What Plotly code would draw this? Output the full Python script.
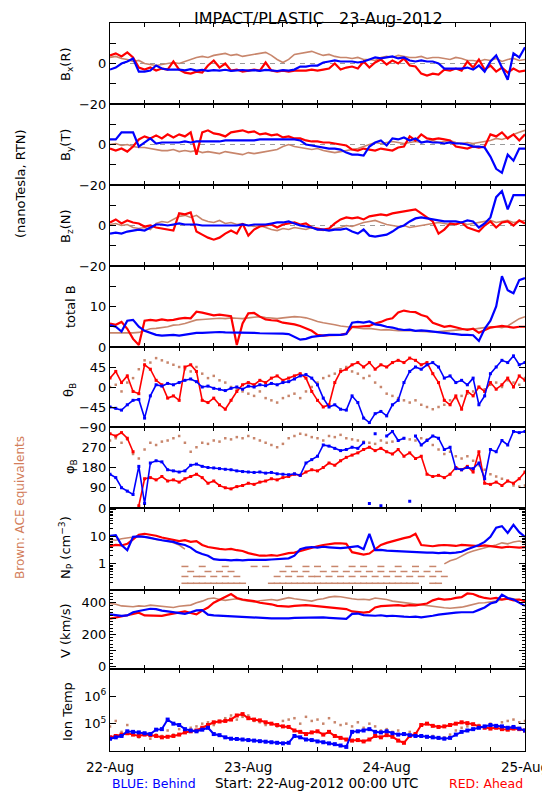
import plotly.graph_objects as go

# The page body has an 8 px margin, so the figure is sized/placed to land on the 550x800 frame.
OFF = 8
W, H = 550 - OFF, 800 - OFF
LEFT, RIGHT = 110, 525      # plot edges in frame pixels


def px(x):
    return (x - OFF) / W


def py(y):
    return 1 - (y - OFF) / H


# ---------------- data (hour since 22-Aug-2012 00:00 UTC) ----------------
hours = list(range(73))

bx_blue = [-3, -2, 0, 1, 2.5, -4, -4, -3.5, -1, -2.5, -3, -3,
           -3, -3.4, -2.8, -3.5, -3.2, -3.6, -3.3, -3.5, -3.1, -3.6, -3.4, -3.2,
           -3.5, -3.3, -3.6, -3.2, -3.4, -3.7, -3.3, -3.5, -3, -1.5, -1.5, -1,
           -1, 0.5, 1, 1.5, 1, 1, 1, 0.5, 1, 2, 3, 2.5,
           3, 3.5, 2.5, 3, 1.5, 1, 1.5, 1, 1, 0, -2.5, -2.5,
           -2.5, -2.5, -2, -3, -1, -4, 1, 4, -2, -8, 5, 3,
           8]
bx_red = [4, 5, 3.5, 5.5, 3, -2, -3, -2, -3.5, -2.5, -3, 1,
          -3, -4.5, -5, -4, -4.5, -1, 1.5, -2, 0, -3.5, -3, -4,
          -3.5, -3, -3.5, 0.5, -3.5, -4, -3.5, -4, -3.5, -3.5, -3.5, -3,
          -3.5, -3, -2.5, 0, -3, -2, -1.5, -2.5, 1, -2, 0.5, 2,
          -0.5, 1.5, 0, 2.5, -1, -1.5, -5, -6, -5, -5.5, -3, -3.5,
          -2.5, -3.5, 1, -2, 2, -3, -1, -4, -2, -4.5, -2.5, -4,
          -3.5]
bx_brown = [3, 3.5, 2.5, 2, 1, 1.5, 0, -0.5, -1, -0.5, 0, 0.5,
            0, 1, 2, 3, 3.5, 3, 4, 4.5, 5, 4, 4.5, 3.5,
            4, 4.5, 5, 5.5, 4, 2, 0.5, 2, 4.5, 5, 5.5, 6,
            5, 4, 4.5, 3.5, 3, 3, 2.5, 3, 2, 2, 1.5, 3,
            3.5, 3, 4, 3.5, 3, 3, 3.5, 2.5, 3, 3, 2.5, 2,
            3, 2.5, 1.5, 1.5, 1, 2, 1.5, 2.5, 1, 2, 2.5, 1.5,
            2]

by_blue = [2.5, 2.5, 6, 6, 6, -1, 1, 3, 0.5, 1, 1, 1,
           1, 1.5, 1, 1.5, 1.5, 1.5, 1.5, 1.5, 2, 2, 2, 2,
           2, 2, 2.5, 2.5, 2.5, 2.5, 2.5, 2.5, 2.5, 2, 0, -0.5,
           -1, -1.5, -2, -2, -2.5, -4, -5, -5, -5.5, -1, 1, 2,
           -0.5, 3, 2.5, 3.5, 2, 3, 1, 1.5, 1, 1, 0.5, 1,
           0.5, 0.5, 0, -1, -1, -1.5, -6, -12, -14, -5, -8, -2,
           -2]
by_red = [-2, -3, -2, -3.5, -1, 2.5, 4, 3, 4.5, 3, 5, 3.5,
          5, 4, 6, -5, 6, 7, 5.5, 5, 4, 6, 6.5, 7,
          6, 6.5, 5, 5.5, 4.5, 5, 3.5, 4, 3, 3, 2, 1.5,
          1.5, 1, 1, 0.5, 0, -0.5, -2.5, -3, -2, -2.5, -3, -2,
          -2.5, -3, -1.5, -1, 4, 2, 5, 3, 2.5, 3, 2.5, 2,
          -1, -1.5, -2, -1, -1.5, -1, 5, 4, 6, 3, 5, 2,
          5]
by_brown = [0, 0.5, -0.5, 0, -1, -1.5, -1.5, -2, -2.5, -3, -3, -2.5,
            -3.5, -3, -3.5, -3, -4, -3.5, -4, -4.5, -3.5, -4, -4.5, -5,
            -4, -4.5, -4, -3.5, -3, -2.5, -1, 0, -1, -1.5, -2, -2.5,
            -2, -3, -3.5, -4, -3.5, -3, -2.5, -2, -1, 0, 1, 0.5,
            1, 1.5, 1, 0.5, 1, 1.5, 1, 1.5, 2, 1, 1.5, 2,
            1, 0.5, 1, 0.5, 1, 1.5, 2, 3, 2.5, 3.5, 5, 6,
            7]

bz_blue = [-4, -3.5, -4, -3, -2.5, -2, -2.5, -1, 0.5, 0.5, 0, 0.5,
           1, 0.5, 0.5, 0.5, 0, 0, 0, 0, 0, 0, 0, 0.5,
           0, 0.5, 0.5, 0.5, 1, 1.5, 1.5, 2, 1, 0, -0.5, -1,
           -2, -2, -2.5, -2, -2, -1.5, -3, -4, -2, -5, -5.5, -5,
           -4.5, -3, -1, 0, 2, 3.5, 4, 3.5, 3, 2.5, 2, 2,
           2, 1.5, 2.5, 2, -1, 1, 4, 14, 17, 8, 15, 15,
           15]
bz_red = [1.5, 3, 1, 2.5, 1.5, 1, -0.5, 0, -1, -1.5, -2, -2.5,
          6, 5.5, 6.5, -3, -4.5, -6, -7, -6, -4, -2.5, -4, 1,
          -5, -2, -0.5, 0, 0.5, -1, 0.5, 1, 1.5, 0.5, 1, -1,
          -1.5, -2, -1.5, 1, 3, 4, 3.5, 4, 3, 4.5, 5, 5.5,
          5, 6, 6.5, 7, 7.5, 8, 6, 4, 2, -4, -2, 1,
          0.5, 1.5, -1, -2, -3, 0, 2, -1, 1.5, 2, 0, 2.5,
          1]
bz_brown = [0.5, 1, 0, 0.5, -1, -1.5, -1, -2, 1, 2, 1.5, 3,
            4.5, 5, 4, 5, 3, 2, 1.5, 2.5, 1, 1.5, 0.5, 1,
            0, -0.5, 0, -1, -2, -2.5, -1.5, -2, -1, -1.5, -2, -1,
            -2, -2.5, -2, -1.5, -1, 0, -0.5, 0.5, 1.5, 2, 2.5, 1.5,
            0.5, 0, -0.5, 0, -1, -0.5, 0, 0.5, 1, 1.5, 1, 0.5,
            1, 1.5, 0.5, 1, 1.5, 2, 2.5, 1.5, 2, 2.5, 1.5, 2,
            2.5]

btot_blue = [5.4, 5, 3.8, 6.5, 6.7, 5, 4, 3.5, 3, 2.8, 2.9, 3,
             2.8, 3, 3.2, 3.5, 3.5, 3.6, 3.6, 3.7, 3.6, 3.6, 3.5, 3.5,
             3.5, 3.5, 3.4, 3.4, 3.4, 3.3, 3.3, 3.2, 2.5, 1.8, 2, 2.5,
             2.7, 2.9, 3, 3, 3, 3.2, 6, 6.2, 6, 6.3, 5.6, 5.4,
             5, 4.8, 4.4, 4.2, 4.3, 4, 4.1, 4, 3.8, 3.6, 3.4, 3.3,
             3.2, 3, 3, 2.9, 1.5, 4.5, 6.5, 10, 17.5, 14, 13.3, 16.5,
             17]
btot_red = [5.8, 5.5, 6.2, 4.5, 2, 0.5, 6.5, 6.7, 6.5, 6.8, 6.6, 6.7,
            7, 7.2, 7.1, 8.7, 8.5, 8.2, 7.8, 8, 7.8, 7.6, 0.5, 5.8,
            8.3, 8.4, 7.5, 6.8, 6.6, 6.5, 6, 5.8, 5.6, 5.2, 4.6, 4,
            3, 2.8, 2.9, 2.9, 3, 3.3, 5, 5, 5.1, 5.2, 5.8, 6.2,
            6.8, 7.1, 8.5, 9, 8.7, 8.6, 7.9, 7.5, 6, 5.5, 5, 5.2,
            4.8, 4.5, 4.2, 4.5, 3.5, 4.2, 4.8, 5, 5.2, 5, 4.8, 5,
            5]
btot_brown = [3.5, 3.5, 3.5, 3.4, 3.5, 3.6, 4, 4.5, 4.6, 4.8, 5, 5.4,
              5.5, 5.8, 6.2, 6.7, 6.8, 6.9, 7, 7.1, 7, 7.2, 7.1, 7,
              7.2, 7.4, 7.5, 7.3, 7.1, 7, 7.2, 7.4, 7.5, 7.4, 7.2, 6.8,
              6.3, 6, 5.8, 5.5, 5.2, 5, 4.8, 4.6, 4.5, 4.6, 4.4, 4.2,
              4.3, 4.1, 4, 4, 4.1, 3.9, 3.8, 3.8, 3.7, 3.8, 3.9, 4,
              4.2, 4.3, 4.5, 4.4, 4.6, 4.8, 5, 5, 4.8, 5.2, 6, 7,
              7.5]

theta_blue = [-45, -48, -52, -40, -30, -28, -70, -20, 5, 2, 8, 5,
              10, 15, 18, 12, 0, 2, -3, -5, -8, -3, 0, -5,
              2, 0, 5, 3, 8, 5, 10, 12, 18, 25, 28, 20,
              5, -25, -45, -40, -50, -52, -20, -35, -70, -80, -60, -55,
              -65, -40, -30, 10, 35, 45, 40, 50, 55, 45, 20, 25,
              10, 15, 5, 20, -40, -20, 30, 45, 60, 55, 70, 50,
              55]
theta_red = [20, 35, 10, 25, -10, -15, 50, 40, 15, 5, -25, -20,
             -30, 45, 50, 35, -30, -35, -25, -40, -50, -30, -10, 5,
             10, 5, 15, 10, 20, 25, 15, 20, 25, 30, 20, -10,
             -30, -45, -40, 10, 35, 40, 50, 55, 45, 55, 40, 50,
             45, 55, 60, 55, 65, 60, 50, 55, 30, 10, -30, -40,
             -20, -50, -10, -20, 0, -10, 10, -5, 5, 20, 0, 25,
             15]
theta_brown = [0, 5, -10, 10, 20, 40, 60, 55, 65, 60, 55, 50,
               45, 40, 35, 45, 30, 20, 25, 15, 10, 0, -5, -10,
               -15, -20, -10, -25, -30, -35, -25, -20, -15, -25, -10, 0,
               10, 20, 25, 30, 40, 45, 35, 30, 20, 25, 10, 0,
               -15, -20, -25, -30, -35, -30, -40, -45, -50, -45, -40, -30,
               -25, -20, -15, -10, 0, -5, 5, 10, 0, 15, 10, 5,
               20]

phi_blue = [150, 135, 90, 75, 60, 185, 20, 200, 210, 205, 170, 165,
            160, 165, 190, 195, 185, 180, 178, 175, 172, 170, 165, 162,
            160, 158, 160, 155, 158, 152, 150, 148, 152, 145, 200, 215,
            230, 280, 275, 265, 255, 260, 270, 265, 290, 20, 330, 10,
            320, 340, 300, 310, 30, 320, 280, 300, 320, 310, 260, 270,
            175, 170, 180, 175, 200, 130, 260, 250, 300, 280, 340, 335,
            340]
phi_red = [330, 320, 335, 310, 250, 10, 130, 135, 125, 140, 120, 125,
           115, 130, 140, 150, 135, 110, 120, 100, 90, 85, 95, 100,
           110, 105, 115, 120, 130, 125, 135, 140, 150, 145, 160, 170,
           165, 180, 200, 190, 210, 225, 235, 245, 260, 270, 255, 265,
           250, 240, 260, 230, 245, 220, 230, 150, 140, 145, 135, 150,
           180, 170, 185, 160, 250, 110, 105, 115, 100, 120, 110, 130,
           160]
phi_brown = [300, 310, 290, 305, 240, 220, 260, 290, 280, 295, 300, 310,
             320, 290, 250, 270, 290, 285, 300, 295, 310, 305, 315, 310,
             320, 310, 300, 290, 280, 270, 285, 310, 320, 330, 325, 315,
             310, 300, 320, 315, 325, 310, 305, 300, 295, 290, 285, 300,
             290, 295, 300, 310, 305, 300, 310, 305, 280, 260, 240, 250,
             230, 220, 230, 210, 190, 170, 150, 140, 130, 120, 100, 95,
             100]

np_blue = [11, 11.5, 5, 3.2, 10, 10.5, 10, 9, 8, 7.5, 7, 6.5,
           5.5, 5, 4, 2.8, 2.3, 2, 1.5, 1.4, 1.4, 1.35, 1.4, 1.35,
           1.4, 1.4, 1.35, 1.4, 1.45, 1.5, 1.5, 1.6, 2, 3.5, 4, 4.2,
           4, 4.3, 4.1, 4, 3.8, 4, 4.2, 4.5, 3.5, 13, 3.2, 3.3,
           3.1, 3, 2.9, 2.9, 2.8, 2.7, 2.7, 2.6, 2.6, 2.5, 2.6, 2.5,
           2.6, 2.8, 3.5, 4.2, 5, 6.5, 10, 22, 25, 14, 28, 15,
           10]
np_red = [4.5, 5, 4.8, 5.5, 8, 12, 13, 12, 11, 9.5, 8.5, 8,
          7, 7.5, 6.5, 7, 5, 4.2, 3.8, 3.6, 3.4, 3.6, 3.2, 3,
          2.5, 2.2, 2, 2, 2.1, 2, 2.3, 2.5, 2.6, 3, 3.5, 4,
          4.5, 5, 5.5, 5.7, 5.8, 5.5, 2.7, 2.5, 2.2, 2.4, 3.5, 5,
          6, 7, 8, 9, 10, 13, 5, 4.8, 4.5, 4.8, 5, 4.8,
          4.6, 5, 4.8, 4.7, 4.5, 4.8, 4.5, 4.2, 4, 4.3, 4.2, 4,
          4.2]
np_brown = ([8, 7.5, 8.5, 9, 10, 10.5, 10, 9.5, 8, 7.5, 7, 6, 5, 3.5]
            + [None] * 44
            + [1, 1.3, 1.5, 2, 2.5, 3, 3.5, 4, 4.5, 5, 6, 5.5, 6.5, 7, 6])
# sparse, quantised ACE density readings (hours at each level)
np_brown_low_levels = [0.19, 0.34, 0.52, 0.8]
np_brown_low_hours = [
    [13, 14, 15, 16, 17, 18, 19, 20, 21, 22, 23, 28, 29, 30, 31, 32, 33, 34, 35,
     36, 37, 38, 39, 40, 41, 42, 43, 44, 45, 46, 47, 48, 49, 50, 51, 52, 53, 56, 57],
    [13, 15, 16, 18, 20, 22, 29, 31, 33, 35, 36, 38, 40, 42, 44, 46, 48, 50, 52, 54, 56, 58],
    [14, 17, 19, 21, 30, 32, 34, 37, 39, 41, 43, 45, 47, 49, 51, 53, 55, 57],
    [13, 16, 20, 25, 27, 31, 34, 36, 39, 42, 44, 47, 50, 53, 56],
]

v_blue = [327, 322, 317, 320, 340, 348, 355, 362, 360, 350, 345, 340,
          335, 330, 340, 352, 354, 325, 320, 318, 315, 312, 312, 310,
          308, 306, 305, 303, 302, 302, 301, 302, 305, 306, 308, 309,
          310, 308, 305, 302, 300, 298, 330, 332, 322, 320, 318, 321,
          316, 318, 313, 312, 310, 313, 308, 312, 318, 325, 330, 332,
          338, 340, 342, 340, 355, 370, 395, 405, 450, 430, 420, 400,
          380]
v_red = [300, 306, 312, 321, 330, 337, 320, 318, 315, 317, 325, 333,
         340, 345, 335, 327, 350, 370, 400, 420, 440, 455, 430, 420,
         415, 410, 400, 395, 390, 380, 378, 375, 380, 383, 385, 382,
         378, 375, 370, 368, 365, 360, 345, 340, 338, 342, 370, 378,
         380, 382, 385, 380, 385, 383, 388, 395, 415, 425, 420, 422,
         430, 435, 458, 455, 440, 430, 425, 430, 420, 425, 415, 420,
         410]
v_brown = [395, 390, 380, 378, 375, 380, 378, 385, 382, 380, 375, 370,
           378, 380, 385, 400, 410, 425, 430, 420, 415, 420, 425, 415,
           410, 405, 412, 418, 420, 415, 425, 432, 425, 420, 415, 410,
           420, 425, 435, 440, 438, 430, 425, 420, 422, 418, 430, 425,
           420, 410, 405, 400, 398, 392, 385, 380, 375, 372, 368, 365,
           368, 372, 380, 390, 398, 400, 405, 410, 420, 430, 425, 420,
           410]

# ion temperature, log10(K)
temp_blue_log10 = [4.45, 4.5, 4.55, 4.72, 4.7, 4.68, 4.65, 4.62, 4.78, 4.8, 5.15, 5.0,
                   4.95, 4.8, 4.75, 4.72, 4.78, 4.85, 4.62, 4.58, 4.5, 4.45, 4.44, 4.42,
                   4.4, 4.38, 4.36, 4.34, 4.32, 4.3, 4.28, 4.3, 4.55, 4.5, 4.42, 4.4,
                   4.35, 4.32, 4.28, 4.25, 4.2, 4.15, 4.7, 4.72, 4.75, 4.8, 4.7, 4.68,
                   4.72, 4.65, 4.6, 4.62, 4.58, 4.55, 4.55, 4.52, 4.5, 4.48, 4.45, 4.48,
                   4.6, 4.7, 4.75, 4.8, 4.85, 4.9, 4.95, 4.92, 4.9, 4.85, 4.88, 4.82,
                   4.75]
temp_red_log10 = [4.5, 4.55, 4.6, 4.65, 4.6, 4.55, 4.6, 4.58, 4.55, 4.5, 4.52, 4.55,
                  4.6, 4.68, 4.72, 4.75, 4.85, 4.95, 5.05, 5.08, 5.1, 5.15, 5.3, 5.35,
                  5.2, 5.15, 5.12, 5.05, 5.0, 4.95, 4.9, 4.88, 4.75, 4.7, 4.62, 4.68,
                  4.72, 4.6, 4.7, 4.55, 4.48, 4.42, 4.38, 4.4, 4.35, 4.42, 4.55, 4.5,
                  4.58, 4.52, 4.38, 4.3, 4.55, 4.62, 4.95, 5.0, 4.92, 4.88, 4.9, 4.95,
                  5.0, 5.05, 5.02, 4.98, 4.9, 4.85, 4.82, 4.85, 4.8, 4.78, 4.82, 4.8,
                  4.75]
temp_brown_log10 = [4.9, 5.1, 4.7, 4.95, 4.6, 4.5, 4.65, 4.45, 4.6, 4.55, 4.75, 4.6,
                    4.8, 4.7, 4.85, 4.9, 5.0, 5.05, 4.95, 5.1, 5.2, 5.3, 5.15, 5.25,
                    5.3, 5.1, 5.05, 4.95, 5.0, 4.9, 5.1, 5.15, 5.2, 5.0, 5.25, 5.1,
                    5.15, 5.0, 5.2, 5.05, 4.95, 5.0, 4.9, 5.05, 4.85, 5.0, 4.9, 4.75,
                    4.8, 4.7, 4.75, 4.65, 4.7, 4.6, 4.55, 4.5, 4.55, 4.45, 4.5, 4.6,
                    4.75, 4.85, 4.9, 4.8, 4.95, 4.85, 5.0, 4.9, 5.05, 5.1, 5.15, 5.05,
                    5.1]

day_labels = ["22-Aug", "23-Aug", "24-Aug", "25-Aug"]

# ---------------- styling ----------------
BLUE = "#0000ff"
RED = "#ff0000"
BROWN = "#c8866c"
BROWN_TXT = "#d27d5a"
FONT = "DejaVu Sans"

temp_blue = [10 ** v for v in temp_blue_log10]
temp_red = [10 ** v for v in temp_red_log10]
temp_brown = [10 ** v for v in temp_brown_log10]


def break_wraps(y):
    """Insert gaps where an angle wraps round (jump > 180 deg) so no line crosses the panel."""
    xs, ys = [], []
    for k, (h, v) in enumerate(zip(hours, y)):
        if k > 0 and abs(v - y[k - 1]) > 180:
            xs.append(h - 0.5)
            ys.append(None)
        xs.append(h)
        ys.append(v)
    return xs, ys


panels = [
    dict(top=23, bot=104, rng=[-20, 20], tv=[-20, -10, 0, 10, 20], tt=["−20", "", "0", "", ""],
         title="B<sub>x</sub>(R)", tx=66, ty=64, data=(bx_brown, bx_red, bx_blue), kind="line", zero=True),
    dict(top=104, bot=185, rng=[-20, 20], tv=[-20, -10, 0, 10, 20], tt=["−20", "", "0", "", ""],
         title="B<sub>y</sub>(T)", tx=66, ty=145, data=(by_brown, by_red, by_blue), kind="line", zero=True),
    dict(top=185, bot=266, rng=[-20, 20], tv=[-20, -10, 0, 10, 20], tt=["−20", "", "0", "", ""],
         title="B<sub>z</sub>(N)", tx=66, ty=226, data=(bz_brown, bz_red, bz_blue), kind="line", zero=True),
    dict(top=266, bot=347, rng=[0, 20], tv=[0, 5, 10, 15, 20], tt=["0", "", "10", "", ""],
         title="total B", tx=70, ty=307, data=(btot_brown, btot_red, btot_blue), kind="line"),
    dict(top=347, bot=427, rng=[-90, 90], tv=[-90, -45, 0, 45, 90], tt=["−90", "−45", "0", "45", ""],
         title="θ<sub>B</sub>", tx=70, ty=390, data=(theta_brown, theta_red, theta_blue), kind="angle"),
    dict(top=427, bot=508, rng=[0, 360], tv=[0, 90, 180, 270, 360], tt=["0", "90", "180", "270", ""],
         title="φ<sub>B</sub>", tx=70, ty=467, data=(phi_brown, phi_red, phi_blue), kind="phi"),
    dict(top=508, bot=590, rng=[-0.97, 2.07], log=True, tv=[1, 10, 100], tt=["1", "10", ""],
         minor=[0.2, 0.3, 0.4, 0.5, 0.6, 0.7, 0.8, 0.9, 2, 3, 4, 5, 6, 7, 8, 9,
                20, 30, 40, 50, 60, 70, 80, 90],
         title="N<sub>P</sub> (cm<sup>−3</sup>)", tx=66, ty=548, data=(np_brown, np_red, np_blue), kind="line"),
    dict(top=590, bot=669, rng=[-17, 480], tv=[0, 100, 200, 300, 400], tt=["0", "", "200", "", "400"],
         minor_dtick=20, title="V (km/s)", tx=65, ty=631, data=(v_brown, v_red, v_blue), kind="line"),
    dict(top=669, bot=751, rng=[4, 7], log=True, tv=[1e4, 1e5, 1e6, 1e7],
         tt=["", "10<sup>5</sup>", "10<sup>6</sup>", ""],
         title="Ion Temp", tx=67, ty=712, data=(temp_brown, temp_red, temp_blue), kind="temp"),
]

fig = go.Figure()
layout = dict(width=W, height=H, margin=dict(l=0, r=0, t=0, b=0, pad=0, autoexpand=False),
              paper_bgcolor="white", plot_bgcolor="white", showlegend=False,
              font=dict(family=FONT, size=13, color="black"))
annotations = []
shapes = []

xdom = [px(LEFT), px(RIGHT)]
xtickvals = list(range(0, 73, 6))
xticktext = [day_labels[h // 24] if h % 24 == 0 else "" for h in xtickvals]

for i, p in enumerate(panels, start=1):
    xa = "x" if i == 1 else f"x{i}"
    ya = "y" if i == 1 else f"y{i}"
    xk = "xaxis" if i == 1 else f"xaxis{i}"
    yk = "yaxis" if i == 1 else f"yaxis{i}"
    ydom = [py(p["bot"]), py(p["top"])]
    layout[xk] = dict(domain=xdom, anchor=ya, range=[0, 72], showgrid=False, zeroline=False,
                      showline=True, linecolor="black", linewidth=1, mirror="ticks",
                      ticks="inside", ticklen=4, tickcolor="black",
                      tickmode="array", tickvals=xtickvals, ticktext=xticktext,
                      showticklabels=(i == len(panels)), automargin=False,
                      ticklabeloverflow="allow",
                      tickfont=dict(family=FONT, size=13.5, color="black"),
                      ticklabelstandoff=4)
    yax = dict(domain=ydom, anchor=xa, showgrid=False, zeroline=False,
               showline=True, linecolor="black", linewidth=1, mirror="ticks",
               ticks="inside", ticklen=6, tickcolor="black", automargin=False,
               tickmode="array", tickvals=p["tv"], ticktext=p["tt"],
               tickfont=dict(family=FONT, size=13, color="black"))
    if p.get("log"):
        yax["type"] = "log"
    yax["range"] = p["rng"]
    if "minor" in p:
        yax["minor"] = dict(tickmode="array", tickvals=p["minor"], ticks="inside", ticklen=3,
                            tickcolor="black", showgrid=False)
    if "minor_dtick" in p:
        yax["minor"] = dict(dtick=p["minor_dtick"], ticks="inside", ticklen=3,
                            tickcolor="black", showgrid=False)
    layout[yk] = yax

    if p.get("zero"):
        shapes.append(dict(type="line", xref=xa, yref=ya, x0=0, x1=72, y0=0, y1=0,
                           line=dict(color="#9a9a9a", width=1, dash="5px,5px"), layer="below"))

    brown, red, blue = p["data"]
    kind = p["kind"]
    if kind == "line":
        fig.add_trace(go.Scatter(x=hours, y=brown, mode="lines", xaxis=xa, yaxis=ya,
                                 line=dict(color=BROWN, width=1.6), connectgaps=False))
        fig.add_trace(go.Scatter(x=hours, y=red, mode="lines", xaxis=xa, yaxis=ya,
                                 line=dict(color=RED, width=2.2)))
        fig.add_trace(go.Scatter(x=hours, y=blue, mode="lines", xaxis=xa, yaxis=ya,
                                 line=dict(color=BLUE, width=2.2)))
    elif kind in ("angle", "phi"):
        fig.add_trace(go.Scatter(x=hours, y=brown, mode="markers", xaxis=xa, yaxis=ya,
                                 marker=dict(color=BROWN, size=2.5, symbol="square")))
        for col, arr in ((RED, red), (BLUE, blue)):
            xs, ys = break_wraps(arr) if kind == "phi" else (hours, arr)
            fig.add_trace(go.Scatter(x=xs, y=ys, mode="lines+markers", xaxis=xa, yaxis=ya,
                                     line=dict(color=col, width=1.6), connectgaps=False,
                                     marker=dict(color=col, size=3, symbol="square")))
    else:  # temp
        fig.add_trace(go.Scatter(x=hours, y=brown, mode="markers", xaxis=xa, yaxis=ya,
                                 marker=dict(color=BROWN, size=2.5, symbol="square")))
        fig.add_trace(go.Scatter(x=hours, y=red, mode="lines+markers", xaxis=xa, yaxis=ya,
                                 line=dict(color=RED, width=2),
                                 marker=dict(color=RED, size=4, symbol="square")))
        fig.add_trace(go.Scatter(x=hours, y=blue, mode="lines+markers", xaxis=xa, yaxis=ya,
                                 line=dict(color=BLUE, width=2),
                                 marker=dict(color=BLUE, size=4, symbol="square")))

    if i == 7:
        for lvl, hrs in zip(np_brown_low_levels, np_brown_low_hours):
            fig.add_trace(go.Scatter(x=hrs, y=[lvl] * len(hrs), mode="markers", xaxis=xa, yaxis=ya,
                                     marker=dict(color=BROWN, size=5, symbol="line-ew",
                                                 line=dict(color=BROWN, width=1.5))))

    annotations.append(dict(text=p["title"], x=px(p["tx"]), y=py(p["ty"]),
                            xref="paper", yref="paper", showarrow=False, textangle=-90,
                            xanchor="center", yanchor="middle",
                            font=dict(family=FONT, size=13, color="black")))

annotations += [
    dict(text="IMPACT/PLASTIC   23-Aug-2012", x=px(318), y=py(8), xref="paper", yref="paper",
         showarrow=False, xanchor="center", yanchor="top", borderpad=0,
         font=dict(family=FONT, size=16, color="black")),
    dict(text="(nanoTesla, RTN)", x=px(20), y=py(184), xref="paper", yref="paper",
         showarrow=False, textangle=-90, xanchor="center", yanchor="middle",
         font=dict(family=FONT, size=13, color="black")),
    dict(text="Brown: ACE equivalents", x=px(20), y=py(508), xref="paper", yref="paper",
         showarrow=False, textangle=-90, xanchor="center", yanchor="middle",
         font=dict(family=FONT, size=12, color=BROWN_TXT)),
    dict(text="BLUE: Behind", x=px(LEFT), y=py(783), xref="paper", yref="paper",
         showarrow=False, xanchor="left", yanchor="middle",
         font=dict(family=FONT, size=12.5, color=BLUE)),
    dict(text="Start: 22-Aug-2012 00:00 UTC", x=px(316), y=py(783), xref="paper", yref="paper",
         showarrow=False, xanchor="center", yanchor="middle",
         font=dict(family=FONT, size=13.5, color="black")),
    dict(text="RED: Ahead", x=px(RIGHT), y=py(783), xref="paper", yref="paper",
         showarrow=False, xanchor="right", yanchor="middle",
         font=dict(family=FONT, size=12.5, color=RED)),
]
layout["annotations"] = annotations
layout["shapes"] = shapes
fig.update_layout(**layout)
fig.write_html("out.html")
